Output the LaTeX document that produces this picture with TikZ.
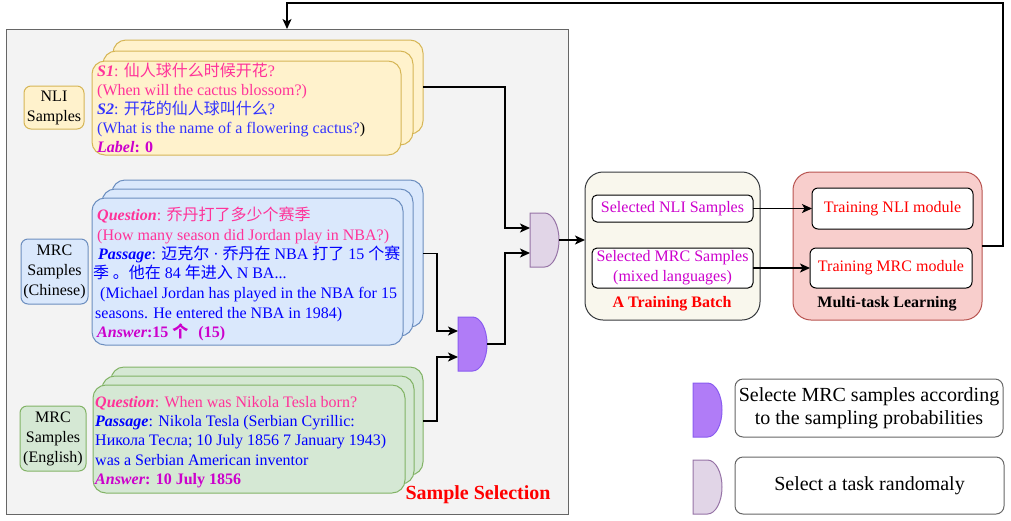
\documentclass[tikz,border=0pt]{standalone}
\usepackage{fontspec}
\setmainfont{Liberation Serif}
\newfontfamily\cjk{Noto Sans CJK SC}
\usetikzlibrary{arrows.meta}
\definecolor{pnk}{HTML}{FF3399}
\definecolor{blu}{HTML}{3333FF}
\definecolor{pblu}{HTML}{0000FF}
\definecolor{mag}{HTML}{CC00CC}
\definecolor{ylwF}{HTML}{FFF2CC}
\definecolor{ylwD}{HTML}{D6B656}
\definecolor{bluF}{HTML}{DAE8FC}
\definecolor{bluD}{HTML}{6C8EBF}
\definecolor{grnF}{HTML}{D5E8D4}
\definecolor{grnD}{HTML}{82B366}
\definecolor{gateLF}{HTML}{E1D5E7}
\definecolor{gateLD}{HTML}{9673A6}
\definecolor{gatePF}{HTML}{B07CF7}
\definecolor{gatePD}{HTML}{8A5CF0}
\definecolor{batchF}{HTML}{F9F7ED}
\definecolor{batchD}{HTML}{36393D}
\definecolor{mtlF}{HTML}{F8CECC}
\definecolor{mtlD}{HTML}{B85450}
\definecolor{panelF}{HTML}{F3F3F3}
\definecolor{panelD}{HTML}{666666}
\begin{document}
\begin{tikzpicture}[x=1pt,y=-1pt,
  box/.style={anchor=north west,inner sep=0pt,outer sep=0pt,line width=1pt},
  cardY/.style={box,draw=ylwD,fill=ylwF,rounded corners=13pt},
  cardB/.style={box,draw=bluD,fill=bluF,rounded corners=13pt},
  cardG/.style={box,draw=grnD,fill=grnF,rounded corners=13pt},
  lblbox/.style={anchor=north west,inner sep=0pt,outer sep=0pt,line width=1pt,rounded corners=7pt,align=center,font=\fontsize{16}{20}\selectfont},
  txt/.style={anchor=base west,inner sep=0pt,font=\fontsize{16}{19}\selectfont},
  inbox/.style={anchor=north west,inner sep=0pt,outer sep=0pt,draw=black,fill=white,line width=1pt,rounded corners=5pt,align=center,font=\fontsize{16}{20}\selectfont},
  arr/.style={line width=1.3pt,-{Stealth[length=10pt,width=9pt,inset=2.5pt]}},
  andgate/.pic={\draw[pic actions] (0,0) -- (14.5,0) .. controls (22.5,0) and (29,12.1) .. (29,27) .. controls (29,41.9) and (22.5,54) .. (14.5,54) -- (0,54) -- cycle;}
]
\useasboundingbox (0,0) rectangle (1011,520);
% panel
\node[box,draw=panelD,fill=panelF,minimum width=562pt,minimum height=485pt] (panel) at (6,29) {};
% NLI cards
\node[cardY,minimum width=310pt,minimum height=94pt] (nliA) at (113,40) {};
\node[cardY,minimum width=310pt,minimum height=94pt] (nliB) at (103,51) {};
\node[cardY,minimum width=309pt,minimum height=94pt] (nliC) at (92,61) {};
% Chinese MRC cards
\node[cardB,minimum width=311pt,minimum height=147pt] (zhA) at (112,180) {};
\node[cardB,minimum width=311pt,minimum height=147pt] (zhB) at (102,189) {};
\node[cardB,minimum width=311pt,minimum height=147pt] (zhC) at (92,198) {};
% English MRC cards
\node[cardG,minimum width=312pt,minimum height=108pt] (enA) at (111,367) {};
\node[cardG,minimum width=312pt,minimum height=108pt] (enB) at (102,376) {};
\node[cardG,minimum width=312pt,minimum height=108pt] (enC) at (93,385) {};
% labels
\node[lblbox,draw=ylwD,fill=ylwF,minimum width=60pt,minimum height=43pt] (nliL) at (24,86) {NLI\\Samples};
\node[lblbox,draw=bluD,fill=bluF,minimum width=67pt,minimum height=65pt] (zhL) at (21,239) {MRC\\Samples\\(Chinese)};
\node[lblbox,draw=grnD,fill=grnF,minimum width=66pt,minimum height=65pt] (enL) at (20,406) {MRC\\Samples\\(English)};
% NLI text
\node[txt] (t1) at (97,76) {\color{pnk}\textbf{\textit{S1}}: {\cjk 仙人球什么时候开花}?};
\node[txt] (t2) at (97,95) {\color{pnk}(When will the cactus blossom?)};
\node[txt] (t3) at (97,114) {\color{blu}\textbf{\textit{S2}}: {\cjk 开花的仙人球叫什么}?};
\node[txt] (t4) at (97,133) {{\color{blu}(What is the name of a flowering cactus?}{\color{black})}};
\node[txt] (t5) at (97,152) {\color{mag}\textbf{\textit{Label}: 0}};
% Chinese MRC text
\node[txt] (c1) at (97,220) {\color{pnk}\textbf{\textit{Question}}: {\cjk 乔丹打了多少个赛季}};
\node[txt] (c2) at (97,240) {\color{pnk}(How many season did Jordan play in NBA?)};
\node[txt] (c3) at (98,259) {\color{pblu}\textbf{\textit{Passage}}: {\cjk 迈克尔} · {\cjk 乔丹在} NBA {\cjk 打了} 15 {\cjk 个赛}};
\node[txt] (c4) at (93,278) {\color{pblu}{\cjk 季 。他在} 84 {\cjk 年进入} N BA...};
\node[txt] (c5) at (100,298) {\color{pblu}(Michael Jordan has played in the NBA for 15};
\node[txt] (c6) at (95,318) {\color{pblu}seasons. He entered the NBA in 1984)};
\node[txt] (c7) at (97,337) {\color{mag}\textbf{\textit{Answer}:15 {\cjk 个}\hspace{6pt} (15)}};
% English MRC text
\node[txt] (e1) at (95,407) {\color{pnk}\textbf{\textit{Question}}: When was Nikola Tesla born?};
\node[txt] (e2) at (95,426) {\color{pblu}\textbf{\textit{Passage}}: Nikola Tesla (Serbian Cyrillic:};
\node[txt] (e3) at (95,445) {\color{pblu}Никола Тесла; 10 July 1856 7 January 1943)};
\node[txt] (e4) at (95,465) {\color{pblu}was a Serbian American inventor};
\node[txt] (e5) at (95,484) {\color{mag}\textbf{\textit{Answer}: 10 July 1856}};
\node[font=\fontsize{20}{22}\selectfont\bfseries,text=red,inner sep=0pt] (ss) at (478,495) {Sample Selection};
% gates
\pic[fill=gateLF,draw=gateLD,line width=1pt] at (530,213) {andgate};
\pic[fill=gatePF,draw=gatePD,line width=1pt] at (458,317) {andgate};
\coordinate (g1a) at (530,228);
\coordinate (g1b) at (530,253);
\coordinate (g1o) at (559,240);
\coordinate (g2a) at (458,331);
\coordinate (g2b) at (458,357);
\coordinate (g2o) at (487,344);
% training batch
\node[box,draw=batchD,fill=batchF,rounded corners=18pt,minimum width=175pt,minimum height=148pt] (batch) at (585,172) {};
\node[inbox,text=mag,minimum width=161pt,minimum height=27pt] (selNLI) at (592,195) {Selected NLI Samples};
\node[inbox,text=mag,minimum width=161pt,minimum height=40pt] (selMRC) at (592,248) {Selected MRC Samples\\(mixed languages)};
\node[font=\fontsize{16}{19}\selectfont\bfseries,text=red,inner sep=0pt] (tb) at (672,304) {A Training Batch};
% multi-task
\node[box,draw=mtlD,fill=mtlF,rounded corners=18pt,minimum width=189pt,minimum height=148pt] (mtl) at (793,172) {};
\node[inbox,text=red,rounded corners=6pt,minimum width=161pt,minimum height=41pt] (trNLI) at (812,188) {Training NLI module};
\node[inbox,text=red,rounded corners=6pt,minimum width=162pt,minimum height=40pt] (trMRC) at (810,248) {Training MRC module};
\node[font=\fontsize{16}{19}\selectfont\bfseries,inner sep=0pt] (ml) at (887,304) {Multi-task Learning};
% legend
\pic[fill=gatePF,draw=gatePD,line width=1pt] at (693,383) {andgate};
\pic[fill=gateLF,draw=gateLD,line width=1pt] at (693,460) {andgate};
\node[inbox,draw=panelD,rounded corners=8pt,minimum width=268pt,minimum height=58pt,font=\fontsize{20}{23}\selectfont] (leg1) at (735,379) {Selecte MRC samples according\\to the sampling probabilities};
\node[inbox,draw=panelD,rounded corners=8pt,minimum width=269pt,minimum height=57pt,font=\fontsize{20}{23}\selectfont] (leg2) at (735,457) {Select a task randomaly};
% connectors
\draw[arr] (nliA.east) -- ++(82,0) |- (g1a);
\draw[arr] (zhA.east) -- ++(14,0) |- (g2a);
\draw[arr] (enA.east) -- ++(14,0) |- (g2b);
\draw[arr] (g2o) -- ++(18,0) |- (g1b);
\draw[arr] (g1o) -- (g1o -| batch.west);
\draw[arr] (selNLI.east) -- (trNLI.west);
\draw[arr] (selMRC.east) -- (trMRC.west);
\coordinate (fbtop) at (1003,3);
\draw[arr] (mtl.east) -| (fbtop) -| (panel.north);
\end{tikzpicture}
\end{document}
